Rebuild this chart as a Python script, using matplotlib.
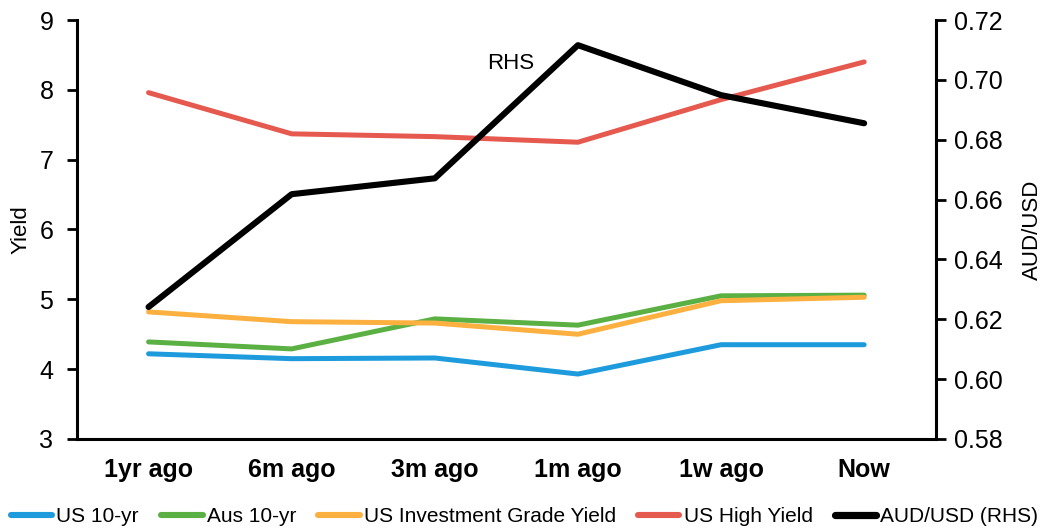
import matplotlib.pyplot as plt

plt.rcParams['font.family'] = ['Liberation Sans', 'DejaVu Sans']

# data
periods = ["1yr ago", "6m ago", "3m ago", "1m ago", "1w ago", "Now"]
us_10yr = [4.22, 4.15, 4.16, 3.93, 4.35, 4.35]
aus_10yr = [4.39, 4.29, 4.72, 4.63, 5.05, 5.06]
us_ig = [4.82, 4.68, 4.66, 4.50, 4.98, 5.03]
us_hy = [7.96, 7.37, 7.33, 7.25, 7.86, 8.40]
audusd = [0.6241, 0.6618, 0.6671, 0.7116, 0.6949, 0.6855]

x = list(range(len(periods)))

fig = plt.figure(figsize=(10.49, 5.31), dpi=100)
ax = fig.add_axes([0.0734, 0.1733, 0.8186, 0.789])
ax2 = ax.twinx()

lw = 3.6
ax.plot(x, us_10yr, color='#1E9BDC', lw=lw, solid_capstyle='round', label='US 10-yr')
ax.plot(x, aus_10yr, color='#5BB043', lw=lw, solid_capstyle='round', label='Aus 10-yr')
ax.plot(x, us_ig, color='#FBB040', lw=lw, solid_capstyle='round', label='US Investment Grade Yield')
ax.plot(x, us_hy, color='#E5594F', lw=lw, solid_capstyle='round', label='US High Yield')
ax2.plot(x, audusd, color='black', lw=4.4, solid_capstyle='round', label='AUD/USD (RHS)')

ax.set_xlim(-0.5, len(periods) - 0.5)
ax.set_ylim(3, 9)
ax.set_yticks(range(3, 10))
ax2.set_ylim(0.58, 0.72)
ax2.set_yticks([0.58, 0.60, 0.62, 0.64, 0.66, 0.68, 0.70, 0.72])
ax2.set_yticklabels(["%.2f" % v for v in ax2.get_yticks()])

ax.set_xticks(x)
ax.set_xticklabels(periods, fontweight='bold', fontsize=18)
ax.tick_params(axis='x', length=0, pad=14)
ax.tick_params(axis='y', labelsize=18, length=7, width=2, direction='out', pad=10)
ax2.tick_params(axis='y', labelsize=18, length=7, width=2, direction='out', pad=6)

for s in ['top', 'right']:
    ax.spines[s].set_visible(False)
for s in ['top', 'left', 'bottom']:
    ax2.spines[s].set_visible(False)
ax.spines['left'].set_linewidth(2.2)
ax.spines['bottom'].set_linewidth(2.2)
ax2.spines['right'].set_linewidth(2.2)

ax.set_ylabel('Yield', fontsize=16, labelpad=6)
ax2.set_ylabel('AUD/USD', fontsize=16, labelpad=14)

ax2.text(2.53, 0.7055, 'RHS', fontsize=16, ha='center', va='center')

h1, l1 = ax.get_legend_handles_labels()
h2, l2 = ax2.get_legend_handles_labels()
leg = fig.legend(h1 + h2, l1 + l2, loc='center', bbox_to_anchor=(0.5, 0.027), ncol=5,
                 frameon=False, fontsize=15,
                 handlelength=2.0, handletextpad=0.2, columnspacing=1.05, borderpad=0)
for line in leg.get_lines():
    line.set_solid_capstyle('round')
    line.set_linewidth(line.get_linewidth() + 0.8)

fig.savefig('out.png', dpi=100)
